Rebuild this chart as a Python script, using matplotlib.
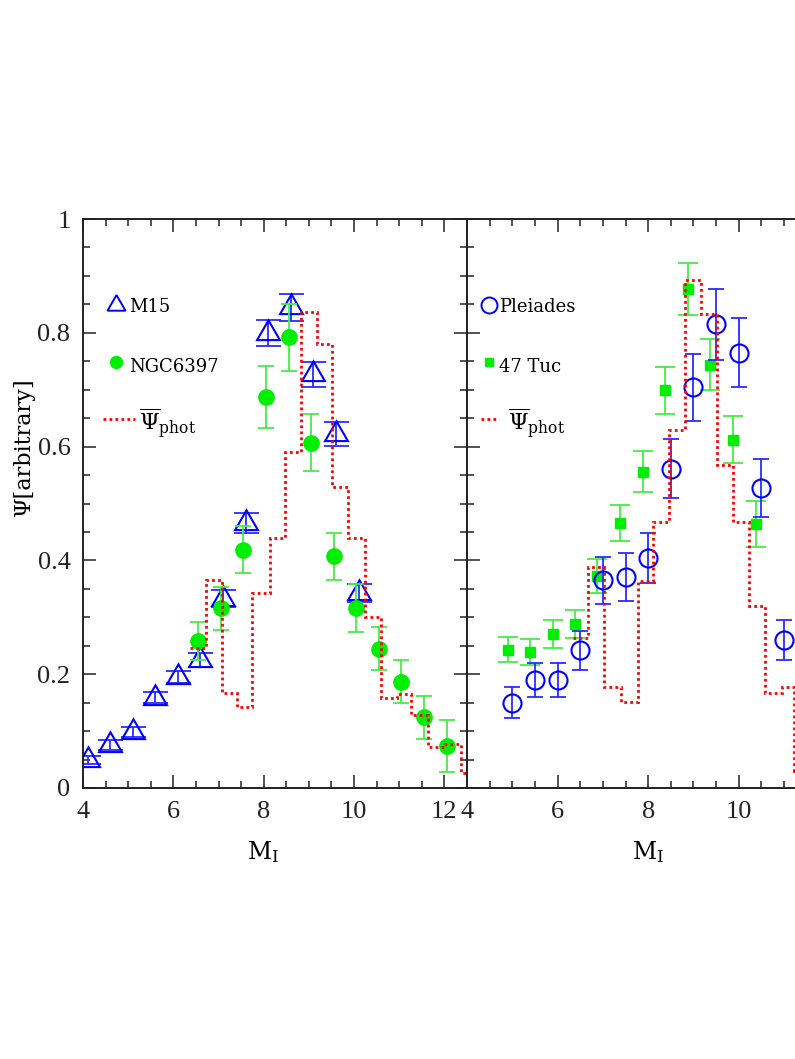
import matplotlib
matplotlib.use('Agg')
import matplotlib.pyplot as plt
from matplotlib.ticker import MultipleLocator, FixedLocator, FixedFormatter

plt.rcParams['font.family'] = ['DejaVu Serif']
plt.rcParams['mathtext.fontset'] = 'dejavuserif'

# ---------------- data ----------------
# Left panel: M15 (open triangles) and NGC6397 (filled circles)
m15_x = [4.1, 4.6, 5.1, 5.6, 6.1, 6.6, 7.1, 7.6, 8.1, 8.6, 9.1, 9.6, 10.1]
m15_y = [0.050, 0.076, 0.098, 0.159, 0.195, 0.225, 0.333, 0.466, 0.800, 0.845, 0.727, 0.622, 0.343]
m15_err = [0.007, 0.009, 0.009, 0.010, 0.010, 0.012, 0.015, 0.018, 0.023, 0.024, 0.022, 0.021, 0.016]

ngc_x = [6.55, 7.05, 7.55, 8.05, 8.55, 9.05, 9.55, 10.05, 10.55, 11.05, 11.55, 12.05]
ngc_y = [0.258, 0.316, 0.419, 0.687, 0.792, 0.607, 0.407, 0.316, 0.245, 0.187, 0.124, 0.074]
ngc_err = [0.033, 0.038, 0.041, 0.054, 0.059, 0.050, 0.041, 0.042, 0.038, 0.038, 0.038, 0.046]

left_edges = [6.37, 6.72, 7.07, 7.40, 7.75, 8.13, 8.48, 8.83, 9.17, 9.52, 9.87,
              10.25, 10.60, 10.95, 11.27, 11.64, 11.99, 12.37, 12.70]
left_vals = [0.246, 0.365, 0.167, 0.143, 0.343, 0.440, 0.590, 0.837, 0.780, 0.529,
             0.440, 0.300, 0.158, 0.165, 0.128, 0.072, 0.077, 0.026]

# Right panel: Pleiades (open circles) and 47 Tuc (filled squares)
ple_x = [5.0, 5.5, 6.0, 6.5, 7.0, 7.5, 8.0, 8.5, 9.0, 9.5, 10.0, 10.5, 11.0]
ple_y = [0.150, 0.190, 0.190, 0.242, 0.365, 0.371, 0.404, 0.561, 0.704, 0.815, 0.765, 0.527, 0.260]
ple_err = [0.027, 0.030, 0.030, 0.034, 0.041, 0.042, 0.044, 0.052, 0.059, 0.062, 0.061, 0.051, 0.035]

tuc_x = [4.90, 5.40, 5.90, 6.38, 6.88, 7.38, 7.88, 8.37, 8.88, 9.37, 9.87, 10.37]
tuc_y = [0.243, 0.239, 0.271, 0.288, 0.373, 0.466, 0.556, 0.699, 0.877, 0.744, 0.612, 0.464]
tuc_err = [0.022, 0.023, 0.025, 0.025, 0.030, 0.032, 0.036, 0.041, 0.046, 0.045, 0.041, 0.040]

right_edges = [6.34, 6.67, 7.02, 7.40, 7.77, 8.10, 8.46, 8.81, 9.17, 9.52, 9.88,
               10.22, 10.58, 10.95, 11.23, 11.60]
right_vals = [0.264, 0.388, 0.178, 0.151, 0.364, 0.467, 0.629, 0.893, 0.833, 0.568,
              0.467, 0.320, 0.167, 0.178, 0.030]

left_xticks = [4, 6, 8, 10, 12]
left_xticklabels = ['4', '6', '8', '10', '12']
right_xticks = [4, 6, 8, 10, 12]
right_xticklabels = ['4', '6', '8', '10', '']
yticks = [0, 0.2, 0.4, 0.6, 0.8, 1.0]
yticklabels = ['0', '0.2', '0.4', '0.6', '0.8', '1']

# ---------------- figure ----------------
W, H = 795, 1059
fig = plt.figure(figsize=(W / 100, H / 100), dpi=100)
ax1 = fig.add_axes([83 / W, 1 - 788 / H, 384 / W, 569 / H])
ax2 = fig.add_axes([467 / W, 1 - 788 / H, 385 / W, 569 / H])

BLUE = '#0000ff'
BLUE_E = '#2b2bff'
GREEN = '#00ee00'
GREEN_E = '#44ee44'
RED = '#ff0000'
dot_style = dict(color=RED, linewidth=2.0, linestyle=(0, (1, 1.15)))

tick_font = dict(family='Liberation Serif', size=19)

for ax, xt, xl in ((ax1, left_xticks, left_xticklabels),
                   (ax2, right_xticks, right_xticklabels)):
    ax.set_xlim(4, 12.5)
    ax.set_ylim(0, 1)
    ax.xaxis.set_major_locator(FixedLocator(xt))
    ax.xaxis.set_major_formatter(FixedFormatter(xl))
    ax.xaxis.set_minor_locator(MultipleLocator(0.5))
    ax.yaxis.set_major_locator(FixedLocator(yticks))
    ax.yaxis.set_major_formatter(FixedFormatter(yticklabels))
    ax.yaxis.set_minor_locator(MultipleLocator(0.05))
    ax.tick_params(which='both', direction='in', top=True, right=True, width=1.1,
                   colors='#222222')
    ax.tick_params(which='major', length=9.4, pad=9)
    ax.tick_params(which='minor', length=4.7)
    for sp in ax.spines.values():
        sp.set_linewidth(1.4)
        sp.set_color('#222222')
    for lab in ax.get_xticklabels() + ax.get_yticklabels():
        lab.set_fontfamily(tick_font['family'])
        lab.set_fontsize(tick_font['size'])

ax2.tick_params(labelleft=False)

# ---- left panel ----
ax1.errorbar(m15_x, m15_y, yerr=m15_err, fmt='none', ecolor=BLUE_E,
             elinewidth=1.3, capsize=9, capthick=1.3, zorder=2)
ax1.plot(m15_x, m15_y, linestyle='none', marker=(3, 0, 0), ms=19,
         mfc='none', mec=BLUE, mew=1.5, zorder=3)
ax1.errorbar(ngc_x, ngc_y, yerr=ngc_err, fmt='none', ecolor=GREEN_E,
             elinewidth=1.3, capsize=6, capthick=1.3, zorder=4)
ax1.plot(ngc_x, ngc_y, linestyle='none', marker='o', ms=11, mfc=GREEN,
         mec=GREEN, zorder=5)
ax1.stairs(left_vals, left_edges, baseline=None, zorder=6, **dot_style)

# legend, left
ax1.plot([0.086], [0.849], transform=ax1.transAxes, marker=(3, 0, 0), ms=15,
         mfc='none', mec=BLUE, mew=1.4, linestyle='none', clip_on=False)
ax1.text(0.120, 0.845, 'M15', transform=ax1.transAxes, fontsize=13,
         va='center', ha='left')
ax1.plot([0.086], [0.749], transform=ax1.transAxes, marker='o', ms=8.6,
         mfc=GREEN, mec=GREEN, linestyle='none')
ax1.text(0.120, 0.740, 'NGC6397', transform=ax1.transAxes, fontsize=13,
         va='center', ha='left')
ax1.plot([0.052, 0.135], [0.648, 0.648], transform=ax1.transAxes, **dot_style)
ax1.text(0.147, 0.629, r'$\overline{\Psi}_{\rm phot}$', transform=ax1.transAxes,
         fontsize=16, va='baseline', ha='left')

# ---- right panel ----
ax2.errorbar(tuc_x, tuc_y, yerr=tuc_err, fmt='none', ecolor=GREEN_E,
             elinewidth=1.3, capsize=7.5, capthick=1.3, zorder=2)
ax2.plot(tuc_x, tuc_y, linestyle='none', marker='s', ms=7.2, mfc=GREEN,
         mec=GREEN, zorder=3)
ax2.errorbar(ple_x, ple_y, yerr=ple_err, fmt='none', ecolor=BLUE_E,
             elinewidth=1.3, capsize=6, capthick=1.3, zorder=4)
ax2.plot(ple_x, ple_y, linestyle='none', marker='o', ms=13, mfc='none',
         mec=BLUE, mew=1.5, zorder=5)
ax2.stairs(right_vals, right_edges, baseline=None, zorder=6, **dot_style)

# legend, right
ax2.plot([0.057], [0.849], transform=ax2.transAxes, marker='o', ms=11.5,
         mfc='none', mec=BLUE, mew=1.4, linestyle='none')
ax2.text(0.083, 0.845, 'Pleiades', transform=ax2.transAxes, fontsize=13,
         va='center', ha='left')
ax2.plot([0.057], [0.749], transform=ax2.transAxes, marker='s', ms=5.5,
         mfc=GREEN, mec=GREEN, linestyle='none')
ax2.text(0.083, 0.740, '47 Tuc', transform=ax2.transAxes, fontsize=13,
         va='center', ha='left')
ax2.plot([0.036, 0.083], [0.648, 0.648], transform=ax2.transAxes, **dot_style)
ax2.text(0.106, 0.629, r'$\overline{\Psi}_{\rm phot}$', transform=ax2.transAxes,
         fontsize=16, va='baseline', ha='left')

# axis labels
ax1.set_xlabel(r'M$_{\rm I}$', fontsize=17)
ax1.xaxis.set_label_coords(0.47, -0.09)
ax2.set_xlabel(r'M$_{\rm I}$', fontsize=17)
ax2.xaxis.set_label_coords(0.47, -0.09)
ax1.set_ylabel('Ψ[arbitrary]', fontsize=16)
ax1.yaxis.set_label_coords(-0.125, 0.60)

fig.savefig('out.png', dpi=100)
